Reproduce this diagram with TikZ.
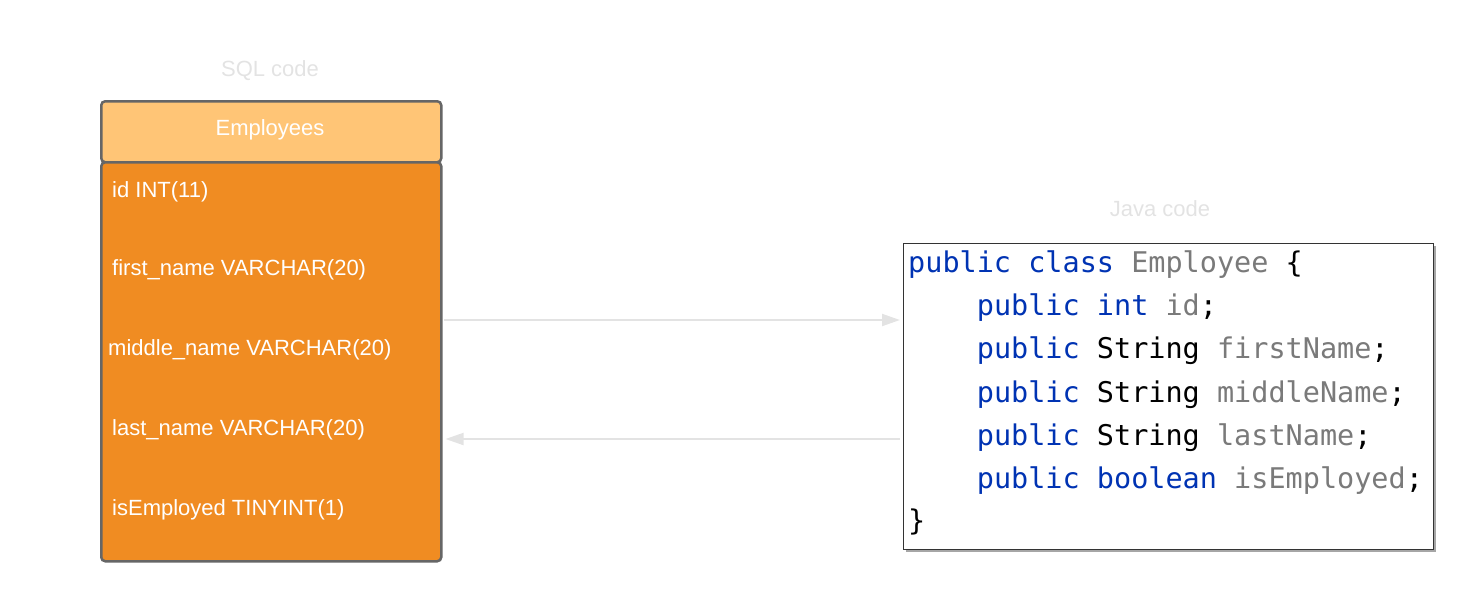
\documentclass[tikz,border=0pt]{standalone}
\usepackage{fontspec}
\setmainfont{Liberation Sans}
\setmonofont{DejaVu Sans Mono}
\usetikzlibrary{arrows.meta}
\definecolor{hdrfill}{HTML}{FFC576}
\definecolor{bodyfill}{HTML}{F08C22}
\definecolor{tblborder}{HTML}{666666}
\definecolor{titlegray}{HTML}{E3E3E3}
\definecolor{arrgray}{HTML}{E3E3E3}
\definecolor{kw}{HTML}{0033B3}
\definecolor{ident}{HTML}{7A7A7A}
\definecolor{codeborder}{HTML}{333333}
\newcommand{\kwd}[1]{\textcolor{kw}{#1}}
\newcommand{\idn}[1]{\textcolor{ident}{#1}}
\begin{document}
\begin{tikzpicture}[x=1pt,y=-1pt,
  title/.style={font=\fontsize{22}{24}\selectfont, text=titlegray, anchor=base, inner sep=0pt},
  rowtext/.style={font=\fontsize{22}{24}\selectfont, text=white, anchor=base west, inner sep=0pt},
  codeline/.style={font=\ttfamily\fontsize{28.5}{32}\selectfont, anchor=base west, inner sep=0pt},
  tbl/.style={draw=tblborder, line width=2.5pt, rounded corners=4pt, inner sep=0pt},
  arr/.style={draw=arrgray, line width=2pt, -{Triangle[length=18pt,width=12pt,fill=arrgray]}}]
\useasboundingbox (0,0) rectangle (1480,600);
% SQL table
\node[title] (sqlt) at (270,76) {SQL code};
\node[tbl, fill=hdrfill, minimum width=340pt, minimum height=61pt, anchor=north west] (hdr) at (100,100) {};
\node[font=\fontsize{22}{24}\selectfont, text=white, anchor=base, inner sep=0pt] (hdrtext) at (270,135) {Employees};
\node[tbl, fill=bodyfill, minimum width=340pt, minimum height=399pt, anchor=north west] (body) at (100,161) {};
\node[rowtext] (r1) at (112,197) {id INT(11)};
\node[rowtext] (r2) at (112,275) {first\_name VARCHAR(20)};
\node[rowtext] (r3) at (108,355) {middle\_name VARCHAR(20)};
\node[rowtext] (r4) at (112,435) {last\_name VARCHAR(20)};
\node[rowtext] (r5) at (112,515) {isEmployed TINYINT(1)};
% Java code
\node[title] (javat) at (1160,216) {Java code};
\fill[black!35] (906,246) rectangle (1436,552);
\node[draw=codeborder, line width=1pt, fill=white, minimum width=530pt, minimum height=306pt, anchor=north west, inner sep=0pt] (code) at (903,243) {};
\node[codeline] (c1) at (908,272) {\kwd{public} \kwd{class} \idn{Employee} \{};
\node[codeline] (c2) at (908,315.5) {\phantom{xxxx}\kwd{public} \kwd{int} \idn{id};};
\node[codeline] (c3) at (908,358.8) {\phantom{xxxx}\kwd{public} String \idn{firstName};};
\node[codeline] (c4) at (908,402.1) {\phantom{xxxx}\kwd{public} String \idn{middleName};};
\node[codeline] (c5) at (908,445.4) {\phantom{xxxx}\kwd{public} String \idn{lastName};};
\node[codeline] (c6) at (908,488.7) {\phantom{xxxx}\kwd{public} \kwd{boolean} \idn{isEmployed};};
\node[codeline] (c7) at (908,530) {\}};
% arrows
\coordinate (ya) at (0,320);
\coordinate (yb) at (0,439);
\draw[arr] ([xshift=1.5pt]body.east |- ya) -- ([xshift=-3pt]code.west |- ya);
\draw[arr] ([xshift=-3pt]code.west |- yb) -- ([xshift=3pt]body.east |- yb);
\end{tikzpicture}
\end{document}
